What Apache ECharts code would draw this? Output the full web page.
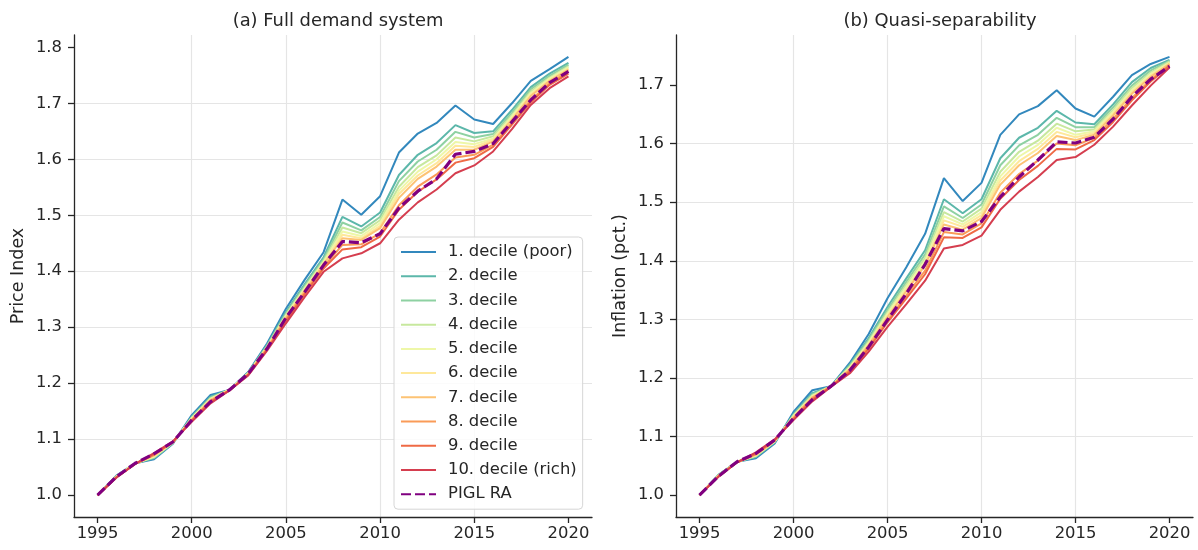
<!DOCTYPE html>
<meta charset="utf-8">
<style>
html, body { margin: 0; padding: 0; background: #fff; }
#main { width: 1198px; height: 550px; }
</style>
<div id="main"></div>
<script src="https://cdn.jsdelivr.net/npm/echarts@6/dist/echarts.min.js"></script>
<script>
var years = [1995, 1996, 1997, 1998, 1999, 2000, 2001, 2002, 2003, 2004, 2005, 2006, 2007,
             2008, 2009, 2010, 2011, 2012, 2013, 2014, 2015, 2016, 2017, 2018, 2019, 2020];
var xTicks = [1995, 2000, 2005, 2010, 2015, 2020];
var yTicksFull = [1.0, 1.1, 1.2, 1.3, 1.4, 1.5, 1.6, 1.7, 1.8];
var yTicksQuasi = [1.0, 1.1, 1.2, 1.3, 1.4, 1.5, 1.6, 1.7];

var names = ['1. decile (poor)', '2. decile', '3. decile', '4. decile', '5. decile', '6. decile',
             '7. decile', '8. decile', '9. decile', '10. decile (rich)', 'PIGL RA'];
var colors = ['#3288bd', '#5cb7aa', '#8ed1a2', '#c7e89e', '#eef7a8', '#fee89b',
              '#fdc374', '#fa9b58', '#ef6a45', '#d53e4f', '#800080'];

// (a) full demand system
var fullD1  = [1.000, 1.035, 1.057, 1.064, 1.092, 1.143, 1.179, 1.188, 1.220, 1.271, 1.333, 1.385, 1.434, 1.528, 1.501, 1.534, 1.612, 1.646, 1.665, 1.696, 1.671, 1.663, 1.700, 1.740, 1.761, 1.783];
var fullD2  = [1.000, 1.034, 1.057, 1.066, 1.093, 1.140, 1.176, 1.188, 1.219, 1.268, 1.327, 1.377, 1.425, 1.497, 1.480, 1.505, 1.572, 1.608, 1.629, 1.661, 1.647, 1.650, 1.688, 1.729, 1.753, 1.772];
var fullD3  = [1.000, 1.034, 1.057, 1.067, 1.093, 1.139, 1.174, 1.188, 1.218, 1.267, 1.324, 1.374, 1.421, 1.487, 1.473, 1.497, 1.561, 1.596, 1.617, 1.649, 1.639, 1.645, 1.683, 1.725, 1.749, 1.769];
var fullD4  = [1.000, 1.033, 1.057, 1.068, 1.094, 1.138, 1.173, 1.188, 1.218, 1.265, 1.322, 1.371, 1.418, 1.478, 1.468, 1.491, 1.551, 1.586, 1.607, 1.639, 1.632, 1.641, 1.679, 1.721, 1.746, 1.766];
var fullD5  = [1.000, 1.033, 1.057, 1.069, 1.094, 1.137, 1.172, 1.188, 1.217, 1.264, 1.320, 1.369, 1.416, 1.471, 1.463, 1.486, 1.544, 1.578, 1.600, 1.631, 1.627, 1.637, 1.676, 1.718, 1.744, 1.764];
var fullD6  = [1.000, 1.033, 1.057, 1.070, 1.094, 1.136, 1.171, 1.188, 1.217, 1.264, 1.318, 1.367, 1.414, 1.465, 1.459, 1.481, 1.538, 1.571, 1.593, 1.624, 1.622, 1.635, 1.673, 1.715, 1.742, 1.762];
var fullD7  = [1.000, 1.032, 1.056, 1.071, 1.095, 1.135, 1.170, 1.187, 1.216, 1.263, 1.317, 1.365, 1.412, 1.459, 1.456, 1.477, 1.531, 1.565, 1.587, 1.617, 1.617, 1.632, 1.671, 1.713, 1.740, 1.760];
var fullD8  = [1.000, 1.032, 1.056, 1.072, 1.095, 1.134, 1.168, 1.187, 1.216, 1.261, 1.314, 1.362, 1.408, 1.447, 1.448, 1.468, 1.518, 1.551, 1.573, 1.603, 1.608, 1.626, 1.665, 1.706, 1.736, 1.756];
var fullD9  = [1.000, 1.032, 1.056, 1.073, 1.095, 1.133, 1.167, 1.187, 1.215, 1.260, 1.311, 1.359, 1.405, 1.439, 1.443, 1.462, 1.510, 1.542, 1.564, 1.594, 1.602, 1.622, 1.662, 1.702, 1.733, 1.753];
var fullD10 = [1.000, 1.031, 1.056, 1.075, 1.096, 1.131, 1.164, 1.187, 1.214, 1.258, 1.307, 1.354, 1.399, 1.423, 1.432, 1.450, 1.492, 1.523, 1.546, 1.575, 1.589, 1.614, 1.654, 1.697, 1.727, 1.748];
var fullPigl = [1.000, 1.033, 1.057, 1.074, 1.095, 1.134, 1.167, 1.188, 1.217, 1.262, 1.317, 1.363, 1.411, 1.453, 1.451, 1.467, 1.513, 1.543, 1.565, 1.609, 1.614, 1.628, 1.667, 1.706, 1.737, 1.757];

// (b) quasi-separability
var quasiD1  = [1.000, 1.034, 1.057, 1.063, 1.088, 1.142, 1.179, 1.186, 1.226, 1.275, 1.336, 1.389, 1.446, 1.541, 1.502, 1.533, 1.615, 1.650, 1.664, 1.691, 1.660, 1.646, 1.680, 1.717, 1.736, 1.748];
var quasiD2  = [1.000, 1.034, 1.057, 1.065, 1.090, 1.138, 1.174, 1.186, 1.223, 1.268, 1.321, 1.370, 1.418, 1.505, 1.481, 1.505, 1.575, 1.610, 1.627, 1.656, 1.636, 1.633, 1.667, 1.705, 1.729, 1.743];
var quasiD3  = [1.000, 1.034, 1.057, 1.066, 1.091, 1.137, 1.172, 1.186, 1.221, 1.265, 1.316, 1.364, 1.411, 1.493, 1.473, 1.496, 1.563, 1.597, 1.615, 1.644, 1.628, 1.628, 1.662, 1.699, 1.725, 1.741];
var quasiD4  = [1.000, 1.033, 1.057, 1.067, 1.091, 1.135, 1.170, 1.186, 1.219, 1.262, 1.312, 1.359, 1.405, 1.483, 1.467, 1.489, 1.552, 1.586, 1.605, 1.634, 1.621, 1.624, 1.657, 1.695, 1.721, 1.740];
var quasiD5  = [1.000, 1.033, 1.057, 1.068, 1.092, 1.135, 1.169, 1.186, 1.218, 1.260, 1.309, 1.355, 1.400, 1.476, 1.462, 1.483, 1.544, 1.578, 1.598, 1.627, 1.615, 1.621, 1.654, 1.691, 1.719, 1.738];
var quasiD6  = [1.000, 1.033, 1.057, 1.068, 1.092, 1.134, 1.168, 1.186, 1.217, 1.258, 1.306, 1.351, 1.396, 1.469, 1.458, 1.478, 1.537, 1.570, 1.591, 1.620, 1.611, 1.618, 1.651, 1.688, 1.716, 1.737];
var quasiD7  = [1.000, 1.032, 1.056, 1.069, 1.093, 1.133, 1.167, 1.186, 1.215, 1.256, 1.304, 1.348, 1.392, 1.462, 1.453, 1.473, 1.530, 1.563, 1.584, 1.613, 1.606, 1.615, 1.648, 1.685, 1.714, 1.736];
var quasiD8  = [1.000, 1.032, 1.056, 1.070, 1.093, 1.131, 1.165, 1.186, 1.213, 1.253, 1.298, 1.341, 1.383, 1.449, 1.445, 1.464, 1.516, 1.548, 1.571, 1.600, 1.597, 1.610, 1.642, 1.678, 1.709, 1.734];
var quasiD9  = [1.000, 1.032, 1.056, 1.071, 1.094, 1.130, 1.163, 1.185, 1.211, 1.250, 1.295, 1.336, 1.377, 1.440, 1.439, 1.457, 1.506, 1.538, 1.562, 1.591, 1.590, 1.606, 1.637, 1.674, 1.706, 1.733];
var quasiD10 = [1.000, 1.031, 1.056, 1.073, 1.095, 1.128, 1.160, 1.185, 1.208, 1.245, 1.287, 1.326, 1.366, 1.421, 1.427, 1.443, 1.487, 1.518, 1.543, 1.572, 1.577, 1.598, 1.629, 1.665, 1.699, 1.730];
var quasiPigl = [1.000, 1.032, 1.057, 1.071, 1.094, 1.131, 1.163, 1.186, 1.213, 1.253, 1.299, 1.344, 1.394, 1.455, 1.451, 1.467, 1.509, 1.543, 1.572, 1.603, 1.601, 1.611, 1.642, 1.680, 1.710, 1.732];

var fullRows = [fullD1, fullD2, fullD3, fullD4, fullD5, fullD6, fullD7, fullD8, fullD9, fullD10, fullPigl];
var quasiRows = [quasiD1, quasiD2, quasiD3, quasiD4, quasiD5, quasiD6, quasiD7, quasiD8, quasiD9, quasiD10, quasiPigl];

var ink = '#262626';
var font = 'DejaVu Sans';

function buildSeries(rows, idx) {
    return rows.map(function (vals, i) {
        var ra = i === names.length - 1;
        return {
            name: names[i],
            type: 'line',
            xAxisIndex: idx,
            yAxisIndex: idx,
            data: years.map(function (y, j) { return [y, vals[j]]; }),
            symbol: 'none',
            lineStyle: { color: colors[i], width: ra ? 3.2 : 2, type: ra ? [10, 4] : 'solid' },
            itemStyle: { color: colors[i] }
        };
    });
}

function xAxis(idx) {
    return {
        type: 'value',
        gridIndex: idx,
        min: 1993.75,
        max: 2021.25,
        axisLine: { show: true, onZero: false, lineStyle: { color: ink, width: 1.3 } },
        axisTick: { show: true, length: 6, customValues: xTicks, lineStyle: { color: ink, width: 1.3 } },
        axisLabel: {
            customValues: xTicks, margin: 9, color: ink, fontSize: 16.4, fontFamily: font,
            formatter: function (v) { return String(v); }
        },
        splitLine: { show: true, showMinLine: false, showMaxLine: false, lineStyle: { color: '#e5e5e5', width: 1.2 } }
    };
}

function yAxis(idx, min, max, ticks, name) {
    return {
        type: 'value',
        gridIndex: idx,
        min: min,
        max: max,
        name: name,
        nameLocation: 'middle',
        nameGap: 47,
        nameTextStyle: { color: ink, fontSize: 17.5, fontFamily: font },
        axisLine: { show: true, lineStyle: { color: ink, width: 1.3 } },
        axisTick: { show: true, length: 6, customValues: ticks, lineStyle: { color: ink, width: 1.3 } },
        axisLabel: {
            customValues: ticks, margin: 12, color: ink, fontSize: 16.4, fontFamily: font,
            formatter: function (v) { return v.toFixed(1); }
        },
        splitLine: { show: true, showMinLine: false, showMaxLine: false, lineStyle: { color: '#e5e5e5', width: 1.2 } }
    };
}

var chart = echarts.init(document.getElementById('main'));

chart.setOption({
    animation: false,
    backgroundColor: '#fff',
    title: [
        { text: '(a) Full demand system', left: 333, top: 7, textAlign: 'center',
          textStyle: { color: ink, fontSize: 17.9, fontWeight: 'normal', fontFamily: font } },
        { text: '(b) Quasi-separability', left: 935, top: 7, textAlign: 'center',
          textStyle: { color: ink, fontSize: 17.9, fontWeight: 'normal', fontFamily: font } }
    ],
    grid: [
        { left: 74, right: 606, top: 35, bottom: 33 },
        { left: 676, right: 5, top: 35, bottom: 33 }
    ],
    legend: {
        data: names,
        orient: 'vertical',
        left: 394,
        top: 237,
        itemWidth: 35,
        itemHeight: 14,
        itemGap: 8.22,
        padding: [7, 6, 7, 6],
        backgroundColor: 'rgba(255,255,255,0.85)',
        borderColor: '#d6d6d6',
        borderWidth: 1,
        borderRadius: 4,
        itemStyle: { opacity: 0 },
        textStyle: { color: ink, fontSize: 16.4, fontFamily: font, padding: [0, 0, 0, 7] }
    },
    xAxis: [xAxis(0), xAxis(1)],
    yAxis: [
        yAxis(0, 0.961, 1.822, yTicksFull, 'Price Index'),
        yAxis(1, 0.9626, 1.7854, yTicksQuasi, 'Inflation (pct.)')
    ],
    series: buildSeries(fullRows, 0).concat(buildSeries(quasiRows, 1))
});
</script>
